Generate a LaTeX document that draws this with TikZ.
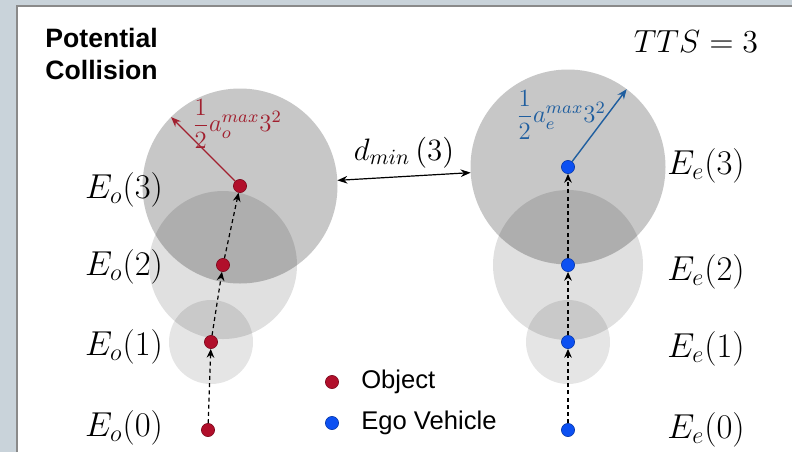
\RequirePackage{fix-cm}
\documentclass[tikz,border=0pt]{standalone}
\usepackage{amsmath}
\usepackage{fontspec}
\setsansfont{Liberation Sans}
\usetikzlibrary{arrows.meta,positioning}
\definecolor{cBg}{HTML}{C9D3DA}
\definecolor{cRim}{HTML}{8A8A8A}
\definecolor{cObj}{HTML}{B10F2B}
\definecolor{cObjD}{HTML}{A1202F}
\definecolor{cEgo}{HTML}{0C50F2}
\definecolor{cEgoD}{HTML}{1F5E9F}
\tikzset{
  objdot/.style={circle,fill=cObj,draw=cObj!70!black,line width=.3pt,
              inner sep=0pt,minimum size=6.6pt},
  egodot/.style={circle,fill=cEgo,draw=cEgo!70!black,line width=.3pt,
              inner sep=0pt,minimum size=6.6pt},
  reach/.style={circle,fill=black,draw=none,inner sep=0pt,outer sep=0pt},
  trail/.style={-{Stealth[length=4.4pt,width=3.8pt]},line width=.6pt,
              dash pattern=on 2pt off 1.6pt},
  radobj/.style={-{Stealth[length=5pt,width=4pt]},line width=.7pt,cObjD},
  radego/.style={-{Stealth[length=5pt,width=4pt]},line width=.7pt,cEgoD},
  gap/.style={{Stealth[length=5pt,width=3.8pt]}-{Stealth[length=5pt,width=3.8pt]},
              line width=.6pt},
  elab/.style={font=\fontsize{17.3}{20}\selectfont,inner sep=1pt},
  rlab/.style={font=\fontsize{12.4}{14}\selectfont,inner sep=1pt},
  leg/.style={font=\sffamily\fontsize{12.8}{15}\selectfont,inner sep=1pt},
}

\begin{document}
\begin{tikzpicture}[x=.5pt,y=-.5pt]
  \useasboundingbox (0,0) rectangle (792,452);
  \fill[cBg] (0,0) rectangle (792,452);
  \fill[white] (17,6) rectangle (792,452);
  \draw[cRim,line width=1pt] (17,452) |- (792,6);

  % reachable sets of the object
  \node[reach,fill opacity=.10,minimum size=42pt](ro1) at (211,342){};
  \node[reach,fill opacity=.12,minimum size=74pt](ro2) at (223,265){};
  \node[reach,fill opacity=.22,minimum size=97.5pt](ro3) at (240,186){};
  % reachable sets of the ego vehicle
  \node[reach,fill opacity=.10,minimum size=42pt](re1) at (568,342){};
  \node[reach,fill opacity=.12,minimum size=75pt](re2) at (568,265){};
  \node[reach,fill opacity=.22,minimum size=97.5pt](re3) at (568,167){};

  % positions
  \node[objdot](o0) at (208,430){};
  \node[objdot](o1) at (ro1){};
  \node[objdot](o2) at (ro2){};
  \node[objdot](o3) at (ro3){};
  \node[egodot](e0) at (568,430){};
  \node[egodot](e1) at (re1){};
  \node[egodot](e2) at (re2){};
  \node[egodot](e3) at (re3){};

  \draw[trail](o0)--(o1);\draw[trail](o1)--(o2);\draw[trail](o2)--(o3);
  \draw[trail](e0)--(e1);\draw[trail](e1)--(e2);\draw[trail](e2)--(e3);

  \draw[radobj](o3)--(ro3.135);
  \draw[radego](e3)--(re3.53);
  \node[rlab,text=cObjD](lo) at (237,124){$\dfrac{1}{2}a_o^{max}3^2$};
  \node[rlab,text=cEgoD](le) at (561,115){$\dfrac{1}{2}a_e^{max}3^2$};

  \draw[gap](ro3)--(re3)
    node[midway,above=3pt,inner sep=1pt,font=\fontsize{15.5}{18}\selectfont](dm){$d_{min}\,(3)$};

  \node[elab](to3) at (124,190){$E_o(3)$};
  \node[elab](to2) at (124,267){$E_o(2)$};
  \node[elab](to1) at (124,347){$E_o(1)$};
  \node[elab](to0) at (124,428){$E_o(0)$};
  \node[elab](te3) at (706,166){$E_e(3)$};
  \node[elab](te2) at (706,272){$E_e(2)$};
  \node[elab](te1) at (706,349){$E_e(1)$};
  \node[elab](te0) at (706,430){$E_e(0)$};

  \node[elab,font=\fontsize{16}{18}\selectfont](tts) at (696,42){$TTS=3$};
  \node[anchor=north west,inner sep=0pt,align=left,
        font=\sffamily\bfseries\fontsize{13.3}{16}\selectfont](title) at (45,28)
        {Potential\\Collision};

  % legend
  \node[objdot](ko) at (332,382){};
  \node[leg,right=10pt of ko](kot){Object};
  \node[egodot](ke) at (332,423){};
  \node[leg,right=10pt of ke](ket){Ego Vehicle};
\end{tikzpicture}
\end{document}
